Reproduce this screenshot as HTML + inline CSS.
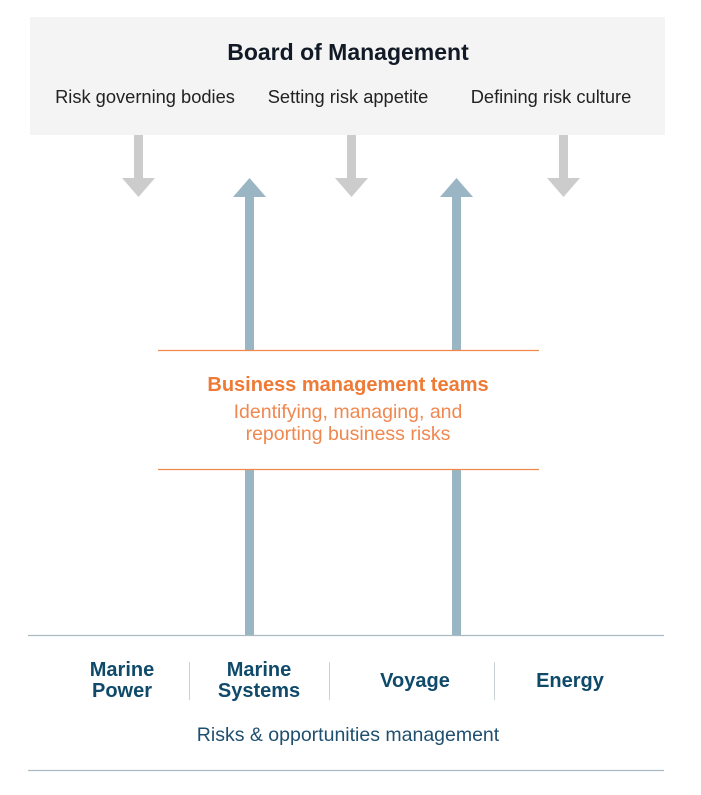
<!DOCTYPE html>
<html><head><meta charset="utf-8"><style>
body{margin:0;width:701px;height:795px;background:#fff;position:relative;overflow:hidden;font-family:"Liberation Sans",sans-serif}
.t{position:absolute;white-space:nowrap;text-align:center;transform:translateX(-50%)}
</style></head><body>
<svg width="701" height="795" style="position:absolute;left:0;top:0">
<rect x="30" y="17" width="635" height="118" fill="#f4f4f4"/>
<g fill="#cccccc">
<rect x="134" y="135" width="9" height="44"/><polygon points="122,178 155,178 138.5,197"/>
<rect x="347" y="135" width="9" height="44"/><polygon points="335,178 368,178 351.5,197"/>
<rect x="559" y="135" width="9" height="44"/><polygon points="547,178 580,178 563.5,197"/>
</g>
<g fill="#9ab5c3">
<polygon points="233,197 266,197 249.5,178"/><rect x="245" y="196" width="9" height="155"/><rect x="245" y="469" width="9" height="166"/>
<polygon points="440,197 473,197 456.5,178"/><rect x="452" y="196" width="9" height="155"/><rect x="452" y="469" width="9" height="166"/>
</g>
<g stroke="#f08a4b" stroke-width="1.2"><line x1="158" y1="350.5" x2="539" y2="350.5"/><line x1="158" y1="469.5" x2="539" y2="469.5"/></g>
<g stroke="#a9bac2" stroke-width="1.2"><line x1="28" y1="635.5" x2="664" y2="635.5"/><line x1="28" y1="770.5" x2="664" y2="770.5"/></g>
<g stroke="#c8d3d8" stroke-width="1"><line x1="189.5" y1="662" x2="189.5" y2="700"/><line x1="329.5" y1="662" x2="329.5" y2="700"/><line x1="494.5" y1="662" x2="494.5" y2="700"/></g>
</svg>
<div class="t" style="left:348px;top:39px;font-size:23px;font-weight:bold;color:#111a26">Board of Management</div>
<div class="t" style="left:145px;top:86px;font-size:18.3px;color:#222">Risk governing bodies</div>
<div class="t" style="left:348px;top:86px;font-size:18.3px;color:#222">Setting risk appetite</div>
<div class="t" style="left:551px;top:86px;font-size:18.3px;color:#222">Defining risk culture</div>
<div class="t" style="left:348px;top:374px;font-size:20px;font-weight:bold;color:#ef7a35">Business management teams</div>
<div class="t" style="left:348px;top:401px;font-size:19.5px;line-height:22px;color:#ef8850">Identifying, managing, and<br>reporting business risks</div>
<div class="t" style="left:122px;top:660px;font-size:20px;line-height:21px;font-weight:bold;color:#0f4a6b">Marine<br>Power</div>
<div class="t" style="left:259px;top:660px;font-size:20px;line-height:21px;font-weight:bold;color:#0f4a6b">Marine<br>Systems</div>
<div class="t" style="left:415px;top:670px;font-size:20px;font-weight:bold;color:#0f4a6b">Voyage</div>
<div class="t" style="left:570px;top:670px;font-size:20px;font-weight:bold;color:#0f4a6b">Energy</div>
<div class="t" style="left:348px;top:724px;font-size:19.5px;color:#1f4f6f">Risks &amp; opportunities management</div>
</body></html>
